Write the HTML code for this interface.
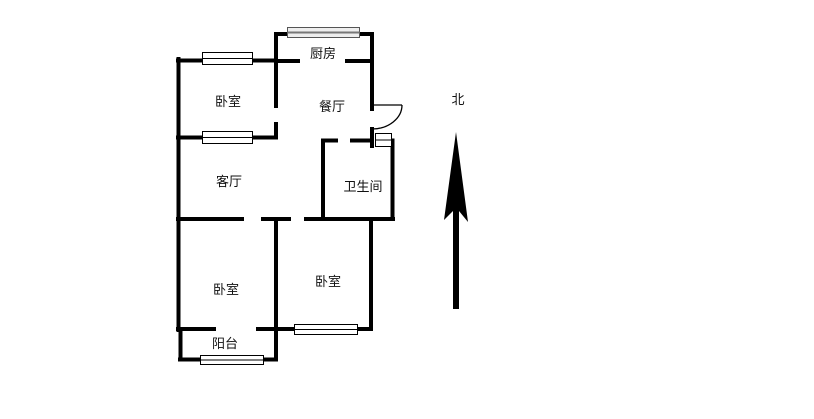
<!DOCTYPE html>
<html><head><meta charset="utf-8"><style>
html,body{margin:0;padding:0;background:#fff;}
svg{display:block;}
text{font-family:"Liberation Sans","Noto Sans CJK SC",sans-serif;font-size:13px;fill:#111;}
</style></head><body>
<svg width="814" height="419" viewBox="0 0 814 419" xmlns="http://www.w3.org/2000/svg">
<rect width="814" height="419" fill="#fff"/>
<g stroke="#000" stroke-width="4" fill="none" stroke-linecap="square">
  <!-- left exterior -->
  <line x1="178.5" y1="59" x2="178.5" y2="330"/>
  <!-- top bedroom top wall -->
  <line x1="178" y1="60.5" x2="202" y2="60.5"/>
  <line x1="252" y1="60.5" x2="276" y2="60.5"/>
  <!-- kitchen -->
  <line x1="276" y1="34" x2="276" y2="106"/>
  <line x1="276" y1="34" x2="287" y2="34"/>
  <line x1="359" y1="34" x2="372" y2="34"/>
  <line x1="372" y1="34" x2="372" y2="109"/>
  <line x1="276" y1="61" x2="298" y2="61"/>
  <line x1="347" y1="61" x2="372" y2="61"/>
  <!-- bedroom right lower -->
  <line x1="276" y1="124" x2="276" y2="137"/>
  <!-- bedroom bottom -->
  <line x1="178" y1="137.5" x2="202" y2="137.5"/>
  <line x1="252" y1="137.5" x2="276" y2="137.5"/>
  <!-- wall after door -->
  <line x1="372" y1="129" x2="372" y2="146"/>
  <!-- bathroom -->
  <line x1="323" y1="140.5" x2="336" y2="140.5"/>
  <line x1="352" y1="140.5" x2="372" y2="140.5"/>
  <line x1="323" y1="140.5" x2="323" y2="219"/>
  <line x1="392.5" y1="140.5" x2="392.5" y2="219"/>
  <!-- y=219 line -->
  <line x1="178" y1="219" x2="242" y2="219"/>
  <line x1="263" y1="219" x2="289" y2="219"/>
  <line x1="306" y1="219" x2="393" y2="219"/>
  <!-- lower verticals -->
  <line x1="276" y1="219" x2="276" y2="359"/>
  <line x1="371" y1="219" x2="371" y2="329"/>
  <!-- bedroom bottoms -->
  <line x1="178" y1="329" x2="214" y2="329"/>
  <line x1="258" y1="329" x2="276" y2="329"/>
  <line x1="276" y1="329" x2="294" y2="329"/>
  <line x1="357" y1="329" x2="371" y2="329"/>
  <!-- balcony -->
  <line x1="180.5" y1="329" x2="180.5" y2="359.5"/>
  <line x1="180" y1="359.5" x2="200" y2="359.5"/>
  <line x1="263" y1="359.5" x2="276" y2="359.5"/>
</g>
<!-- windows -->
<g stroke="#000" stroke-width="1" fill="#fff">
  <rect x="202.5" y="52.5" width="50" height="12"/>
  <line x1="202.5" y1="58.5" x2="252.5" y2="58.5"/>
  <rect x="202.5" y="131.5" width="50" height="12"/>
  <line x1="202.5" y1="137.5" x2="252.5" y2="137.5"/>
  <rect x="294.5" y="324.5" width="63" height="10"/>
  <line x1="294.5" y1="329.5" x2="357.5" y2="329.5"/>
  <rect x="200.5" y="355.5" width="63" height="9"/>
  <line x1="200.5" y1="360" x2="263.5" y2="360"/>
  <rect x="375.5" y="133.5" width="16" height="13"/>
  <line x1="375.5" y1="140" x2="391.5" y2="140"/>
</g>
<g stroke="#555" stroke-width="1" fill="#eee">
  <rect x="287.5" y="27.5" width="72" height="10"/>
  <line x1="287.5" y1="32.5" x2="359.5" y2="32.5" stroke="#777" stroke-width="2"/>
</g>
<!-- door -->
<g stroke="#000" stroke-width="1.3" fill="none">
  <line x1="372" y1="105" x2="402" y2="105"/>
  <path d="M402 105 A30 24 0 0 1 372 129"/>
</g>
<!-- north arrow -->
<polygon points="456,132 468,222 459,211 459,309 453,309 453,211 444,220" fill="#000"/>
<!-- labels -->
<text x="228" y="106" text-anchor="middle">卧室</text>
<text x="323" y="58" text-anchor="middle">厨房</text>
<text x="332" y="111" text-anchor="middle">餐厅</text>
<text x="229" y="186" text-anchor="middle">客厅</text>
<text x="363" y="191" text-anchor="middle">卫生间</text>
<text x="226" y="294" text-anchor="middle">卧室</text>
<text x="328" y="286" text-anchor="middle">卧室</text>
<text x="225" y="348" text-anchor="middle">阳台</text>
<text x="458" y="104" text-anchor="middle">北</text>
</svg>
</body></html>
